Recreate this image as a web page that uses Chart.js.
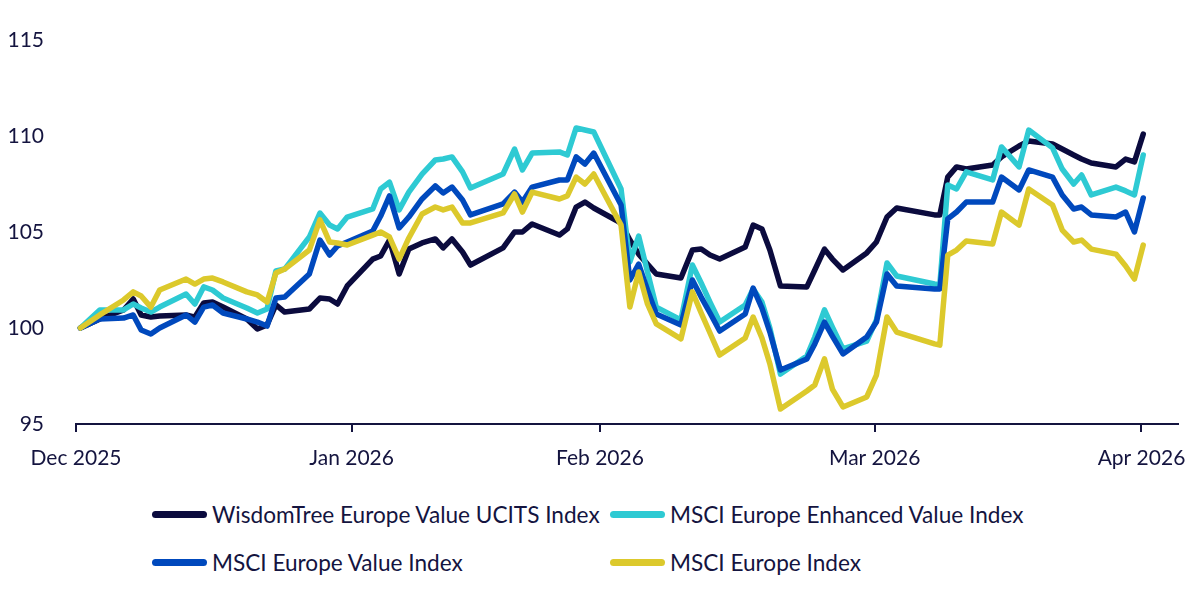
<!DOCTYPE html>
<html>
<head>
<meta charset="utf-8">
<script src="https://cdn.jsdelivr.net/npm/chart.js@4"></script>
<style>
    body { margin: 0; background: #fff; }
    .wrap { position: relative; width: 1200px; height: 592px; font-family: Lato, sans-serif; color: #14143f; }
    .chart-box { position: absolute; left: 0; top: 0; width: 1200px; height: 480px; }
    #legend { position: absolute; left: 152px; top: 490px; display: grid; grid-template-columns: 458px auto; grid-auto-rows: 48px; }
    .legend-item { display: flex; align-items: center; font-size: 22.6px; white-space: nowrap; }
    .legend-line { display: inline-block; width: 55px; height: 7px; border-radius: 4px; margin-right: 5px; }
</style>
</head>
<body>
<div class="wrap">
    <div class="chart-box"><canvas id="myChart"></canvas></div>
    <div id="legend"></div>
</div>

<script>
// days since 1 Dec 2025, as placed on the reference time axis
const dayPos = [0.5, 2.7, 5.4, 6.5, 7.4, 8.5, 9.5, 12.5, 13.5, 14.5, 15.5, 16.7, 19.4, 20.6, 21.7, 22.7, 23.7,
    26.5, 27.7, 28.8, 29.7, 30.8, 33.7, 34.6, 35.6, 36.7, 37.8, 39.3, 40.8, 41.7, 42.7, 43.9, 44.8,
    48.5, 49.8, 50.7, 51.8, 54.9, 55.8, 56.8, 57.8, 58.8, 61.9, 62.9, 63.9, 64.9, 65.9, 68.7, 70.0,
    71.0, 72.0, 73.1, 76.0, 76.9, 77.9, 78.8, 80.0, 83.0, 83.9, 85.0, 85.9, 87.1, 89.8, 90.9, 92.1,
    93.2, 97.5, 98.1, 99.0, 100.0, 101.1, 104.1, 105.1, 107.1, 108.2, 110.9, 112.0, 113.3, 114.2,
    115.3, 118.1, 119.2, 120.2, 121.2];

const wisdomTree = [100.0, 100.47, 100.94, 101.51, 100.68, 100.57, 100.63, 100.68, 100.57, 101.30, 101.35, 101.09, 100.47, 99.95, 100.16, 101.20, 100.83,
    100.99, 101.56, 101.51, 101.25, 102.19, 103.59, 103.75, 104.58, 102.81, 104.11, 104.43, 104.64, 104.17, 104.64, 103.96, 103.28,
    104.17, 105.00, 105.00, 105.42, 104.84, 105.16, 106.30, 106.56, 106.25, 105.47, 104.58, 103.85, 103.33, 102.81, 102.60, 104.06,
    104.11, 103.80, 103.59, 104.22, 105.36, 105.16, 104.06, 102.19, 102.14, 103.02, 104.11, 103.59, 103.02, 103.91, 104.48, 105.78,
    106.25, 105.89, 105.89, 107.86, 108.39, 108.28, 108.49, 108.91, 109.48, 109.74, 109.58, 109.32, 109.01, 108.80,
    108.59, 108.39, 108.80, 108.65, 110.10];

const enhancedValue = [100.0, 100.94, 100.94, 101.25, 101.04, 100.83, 101.09, 101.77, 101.25, 102.14, 101.98, 101.56, 101.04, 100.78, 100.99, 102.97, 103.07,
    104.74, 105.99, 105.36, 105.16, 105.78, 106.20, 107.24, 107.60, 106.15, 107.08, 108.02, 108.75, 108.80, 108.91, 108.13, 107.29,
    108.02, 109.32, 108.23, 109.11, 109.17, 109.01, 110.42, 110.31, 110.21, 107.24, 103.44, 104.79, 102.92, 101.09, 100.42, 103.28,
    102.34, 101.35, 100.31, 101.20, 102.03, 101.35, 100.00, 97.60, 98.54, 99.53, 100.94, 100.05, 98.91, 99.32, 100.42, 103.39,
    102.71, 102.29, 102.24, 107.45, 107.24, 108.13, 107.71, 109.43, 108.39, 110.31, 109.38, 108.28, 107.50, 107.97,
    106.93, 107.34, 107.14, 106.93, 109.01];

const msciValue = [100.0, 100.47, 100.52, 100.68, 99.90, 99.69, 100.00, 100.68, 100.31, 101.09, 101.20, 100.78, 100.47, 100.31, 100.10, 101.56, 101.61,
    102.81, 104.58, 103.80, 104.27, 104.48, 105.05, 105.83, 106.88, 105.21, 105.78, 106.72, 107.40, 107.03, 107.34, 106.67, 105.89,
    106.46, 107.08, 106.56, 107.34, 107.71, 107.71, 108.91, 108.54, 109.11, 106.41, 102.50, 103.33, 101.98, 100.73, 100.16, 102.50,
    101.61, 100.78, 99.84, 100.73, 102.08, 101.04, 99.79, 97.81, 98.39, 99.17, 100.31, 99.58, 98.65, 99.53, 100.31, 102.81,
    102.19, 102.03, 102.03, 105.68, 106.04, 106.56, 106.56, 107.86, 107.19, 108.23, 107.86, 106.93, 106.20, 106.30,
    105.89, 105.78, 106.04, 105.00, 106.77];

const msciEurope = [100.0, 100.68, 101.46, 101.88, 101.67, 101.09, 101.98, 102.55, 102.29, 102.55, 102.60, 102.40, 101.88, 101.72, 101.35, 102.86, 103.07,
    104.06, 105.63, 104.48, 104.43, 104.32, 104.84, 105.00, 104.74, 103.59, 104.69, 105.94, 106.30, 106.15, 106.30, 105.47, 105.47,
    105.99, 106.98, 106.04, 107.08, 106.72, 106.88, 107.86, 107.50, 108.02, 105.36, 101.09, 102.92, 101.25, 100.21, 99.43, 101.88,
    100.78, 99.74, 98.59, 99.48, 100.57, 99.48, 98.13, 95.78, 96.72, 97.03, 98.39, 96.82, 95.89, 96.41, 97.55, 100.57,
    99.79, 99.17, 99.11, 103.80, 104.06, 104.53, 104.38, 106.04, 105.36, 107.24, 106.41, 105.10, 104.48, 104.58,
    104.11, 103.85, 103.23, 102.55, 104.32];

const monthPos = [0, 31.3, 59.5, 90.7, 121.0];
const monthLabels = ['Dec 2025', 'Jan 2026', 'Feb 2026', 'Mar 2026', 'Apr 2026'];
const yTicks = [95, 100, 105, 110, 115];

const seriesNames = ['WisdomTree Europe Value UCITS Index', 'MSCI Europe Enhanced Value Index', 'MSCI Europe Value Index', 'MSCI Europe Index'];
const seriesColors = ['#0b0b3e', '#2ecad3', '#0049bd', '#dcc92c'];
const seriesValues = [wisdomTree, enhancedValue, msciValue, msciEurope];
const drawOrder = [4, 3, 2, 1];

const textColor = '#14143f';

function points(values) {
    return values.map((v, i) => ({ x: dayPos[i], y: v }));
}

const datasets = seriesNames.map((name, i) => ({
    label: name,
    data: points(seriesValues[i]),
    borderColor: seriesColors[i],
    backgroundColor: seriesColors[i],
    borderWidth: 5.5,
    borderJoinStyle: 'round',
    borderCapStyle: 'round',
    pointRadius: 0,
    tension: 0,
    order: drawOrder[i]
}));

new Chart(document.getElementById('myChart'), {
    type: 'line',
    data: { datasets: datasets },
    options: {
        responsive: true,
        maintainAspectRatio: false,
        animation: false,
        layout: { padding: { top: 40, right: 21, left: 0, bottom: 0 } },
        plugins: {
            legend: { display: false },
            tooltip: { enabled: false }
        },
        scales: {
            x: {
                type: 'linear',
                min: 0,
                max: 125.1,
                afterBuildTicks: scale => { scale.ticks = monthPos.map(v => ({ value: v })); },
                afterFit: scale => { scale.height = 56; },
                ticks: {
                    autoSkip: false,
                    maxRotation: 0,
                    padding: 14,
                    color: textColor,
                    font: { family: 'Lato', size: 21 },
                    callback: value => {
                        const i = monthPos.indexOf(value);
                        return i >= 0 ? monthLabels[i] : '';
                    }
                },
                grid: { drawOnChartArea: false, drawTicks: true, tickLength: 8, color: textColor, lineWidth: 2 },
                border: { display: true, color: textColor, width: 2 }
            },
            y: {
                min: 95,
                max: 115,
                afterBuildTicks: scale => { scale.ticks = yTicks.map(v => ({ value: v })); },
                afterFit: scale => { scale.width = 76; },
                ticks: {
                    padding: 24,
                    color: textColor,
                    font: { family: 'Lato', size: 21 }
                },
                grid: { display: false },
                border: { display: false }
            }
        }
    }
});

// legend in two fixed columns like the reference
const legend = document.getElementById('legend');
seriesNames.forEach((name, i) => {
    legend.innerHTML += `<div class="legend-item"><span class="legend-line" style="background:${seriesColors[i]}"></span>${name}</div>`;
});
</script>
</body>
</html>
